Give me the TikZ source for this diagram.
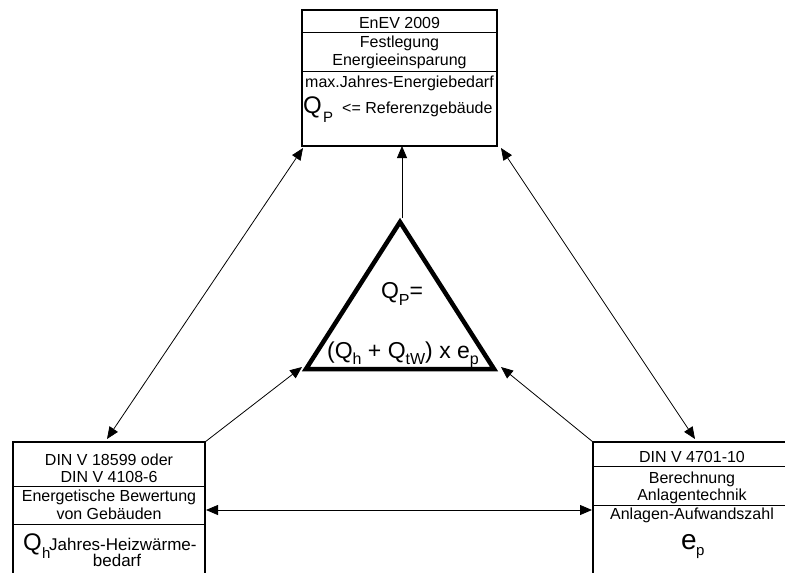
\documentclass[tikz,border=0pt]{standalone}
\usepackage{fontspec}
\setmainfont{Liberation Sans}
\usetikzlibrary{arrows.meta}
\newcommand\myfs[1]{\fontsize{#1}{#1}\selectfont}
\tikzset{
  box/.style={draw, line width=1.8pt, inner sep=0pt, outer sep=0pt},
  sepline/.style={line width=0.9pt},
  txt/.style={anchor=base, inner sep=0pt, font=\myfs{16}},
  txtl/.style={anchor=base west, inner sep=0pt, font=\myfs{16}},
  conn/.style={line width=0.8pt},
  tip/.tip={Triangle[length=12pt,width=10pt]},
}
\begin{document}
\begin{tikzpicture}[x=1pt,y=-1pt]
\useasboundingbox (0,0) rectangle (785,573);
\clip (0,0) rectangle (785,573);
\fill[white] (0,0) rectangle (785,573);

% boxes
\node[box, minimum width=195pt, minimum height=136pt] (enev) at (399.5,78) {};
\node[box, minimum width=192pt, minimum height=158pt] (dinL) at (109,521) {};
\node[box, minimum width=198pt, minimum height=158pt] (dinR) at (692,521) {};

% separator lines
\draw[sepline] ([yshift=-22pt]enev.north west) -- ([yshift=-22pt]enev.north east);
\draw[sepline] ([yshift=-61pt]enev.north west) -- ([yshift=-61pt]enev.north east);
\draw[sepline] ([yshift=-44pt]dinL.north west) -- ([yshift=-44pt]dinL.north east);
\draw[sepline] ([yshift=-82pt]dinL.north west) -- ([yshift=-82pt]dinL.north east);
\draw[sepline] ([yshift=-24pt]dinR.north west) -- ([yshift=-24pt]dinR.north east);
\draw[sepline] ([yshift=-63pt]dinR.north west) -- ([yshift=-63pt]dinR.north east);

% top box texts
\node[txt] (e1) at (399.5,28) {EnEV 2009};
\node[txt] (e2) at (399.5,47) {Festlegung};
\node[txt] (e3) at (399.5,65) {Energieeinsparung};
\node[txt] (e4) at (399.5,87) {max.Jahres-Energiebedarf};
\node[txtl, font=\myfs{24}] (e5) at (303,113) {Q};
\node[txtl, font=\myfs{15}] (e6) at (323,122) {P};
\node[txtl] (e7) at (342,113) {<= Referenzgebäude};

% bottom left texts
\node[txt] (l1) at (109,465) {DIN V 18599 oder};
\node[txt] (l2) at (109,482) {DIN V 4108-6};
\node[txt] (l3) at (109,501) {Energetische Bewertung};
\node[txt] (l4) at (109,519) {von Gebäuden};
\node[txtl, font=\myfs{24}] (l5) at (23,550) {Q};
\node[txtl, font=\myfs{15}] (l6) at (42,558) {h};
\node[txtl, font=\myfs{17}] (l7) at (49,550) {Jahres-Heizwärme-};
\node[txt, font=\myfs{17}] (l8) at (117,566) {bedarf};

% bottom right texts
\node[txt] (r1) at (692,462) {DIN V 4701-10};
\node[txt] (r2) at (692,483) {Berechnung};
\node[txt] (r3) at (692,500) {Anlagentechnik};
\node[txt] (r4) at (692,519) {Anlagen-Aufwandszahl};
\node[txtl, font=\myfs{28}] (r5) at (681,549) {e};
\node[txtl, font=\myfs{15}] (r6) at (696,555) {p};

% triangle
\coordinate (tA) at (400,222);
\coordinate (tL) at (306,369);
\coordinate (tR) at (494,369);
\draw[line width=4.5pt, line join=miter] (tA) -- (tL) -- (tR) -- cycle;
\node[txt, font=\myfs{23}] (f1) at (402,298) {Q\raisebox{-7pt}{\myfs{16}P}=};
\node[txt, font=\myfs{23}] (f2) at (403,358) {(Q\raisebox{-6pt}{\myfs{16}h} + Q\raisebox{-6pt}{\myfs{16}tW}) x e\raisebox{-6pt}{\myfs{16}p}};

% connectors
\draw[conn, tip-tip] ([shift={(1,2)}]enev.south west) -- ([shift={(-2,-3)}]dinL.north);
\draw[conn, tip-tip] ([shift={(4,2)}]enev.south east) -- ([shift={(3,-3)}]dinR.north);
\draw[conn, -tip] (dinL.north east) -- ([shift={(-4,-2)}]tL);
\draw[conn, -tip] (dinR.north west) -- ([shift={(7,-2)}]tR);
\draw[conn, -tip] ([shift={(2,-4)}]tA) -- ([xshift=2.5pt]enev.south);
\draw[conn, tip-tip] ([shift={(1,-11)}]dinL.east) -- ([shift={(-1,-11)}]dinR.west);
\end{tikzpicture}
\end{document}
